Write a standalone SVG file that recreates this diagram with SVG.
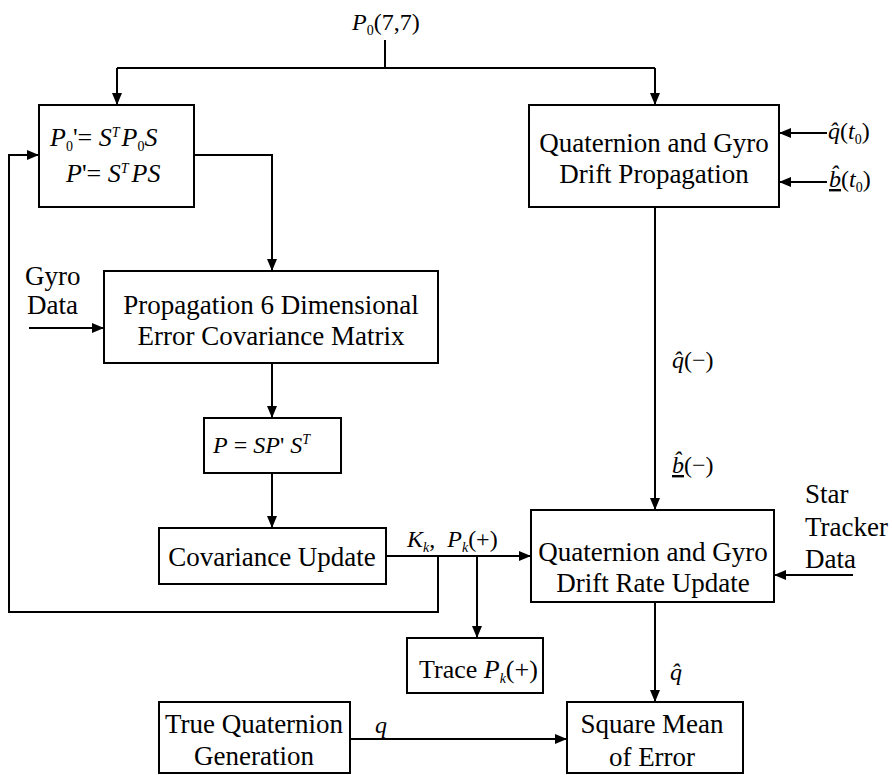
<svg xmlns="http://www.w3.org/2000/svg" width="892" height="775" viewBox="0 0 892 775">
<style>
.box{fill:#fff;stroke:#000;stroke-width:2}
.ln{fill:none;stroke:#000;stroke-width:2}
.t{font-family:"Liberation Serif","Times New Roman",serif;font-size:27px;fill:#000}
.m{font-family:"Liberation Serif","Times New Roman",serif;font-size:24px;fill:#000}
.i{font-style:italic}
.s{font-size:14px}
.u{text-decoration:underline}
</style>
<defs>
<marker id="ah" markerUnits="userSpaceOnUse" markerWidth="12" markerHeight="10" refX="12" refY="5" orient="auto">
<path d="M0,0 L12,5 L0,10 z" fill="#000"/>
</marker>
</defs>
<rect width="892" height="775" fill="#fff"/>
<g id="connectors">
<path class="ln" d="M385,40 V68"/>
<path class="ln" d="M117,68 H655" />
<path class="ln" d="M117,68 V105" marker-end="url(#ah)"/>
<path class="ln" d="M655,68 V105" marker-end="url(#ah)"/>
<path class="ln" d="M194,155 H272 V271" marker-end="url(#ah)"/>
<path class="ln" d="M29,328 H104" marker-end="url(#ah)"/>
<path class="ln" d="M272,363 V418" marker-end="url(#ah)"/>
<path class="ln" d="M272,473 V528" marker-end="url(#ah)"/>
<path class="ln" d="M386,556 H531" marker-end="url(#ah)"/>
<path class="ln" d="M438,556 V612 H9 V155 H39" marker-end="url(#ah)"/>
<path class="ln" d="M477,556 V638" marker-end="url(#ah)"/>
<path class="ln" d="M655,207 V510" marker-end="url(#ah)"/>
<path class="ln" d="M827,133 H779" marker-end="url(#ah)"/>
<path class="ln" d="M827,182 H779" marker-end="url(#ah)"/>
<path class="ln" d="M853,575 H774" marker-end="url(#ah)"/>
<path class="ln" d="M655,602 V702" marker-end="url(#ah)"/>
<path class="ln" d="M350,739 H567" marker-end="url(#ah)"/>
</g>
<g id="labels">
<text class="m" x="352" y="30"><tspan class="i">P</tspan><tspan class="s" dy="5">0</tspan><tspan dy="-5">(7,7)</tspan></text>
<text class="m" x="828" y="139"><tspan class="i">q̂</tspan>(<tspan class="i">t</tspan><tspan class="s" dy="5">0</tspan><tspan dy="-5">)</tspan></text>
<text class="m" x="829" y="187"><tspan class="i u">b̂</tspan>(<tspan class="i">t</tspan><tspan class="s" dy="5">0</tspan><tspan dy="-5">)</tspan></text>
<text class="m" x="672" y="368"><tspan class="i">q̂</tspan>(−)</text>
<text class="m" x="672" y="473"><tspan class="i u">b̂</tspan>(−)</text>
<text class="m" x="407" y="547"><tspan class="i">K</tspan><tspan class="s i" dy="5">k</tspan><tspan dy="-5">,</tspan><tspan class="i" dx="12">P</tspan><tspan class="s i" dy="5">k</tspan><tspan dy="-5">(+)</tspan></text>
<text class="m" x="670" y="680"><tspan class="i">q̂</tspan></text>
<text class="m" x="375" y="733"><tspan class="i">q</tspan></text>
<text class="t" x="25" y="285">Gyro</text>
<text class="t" x="27" y="314">Data</text>
<text class="t" x="805" y="503">Star</text>
<text class="t" x="805" y="536">Tracker</text>
<text class="t" x="805" y="568">Data</text>
</g>
<g id="n_p0s">
<rect class="box" x="39" y="105" width="155" height="102"/>
<text class="m" x="50" y="146" style="font-size:26px"><tspan class="i">P</tspan><tspan class="s" dy="5">0</tspan><tspan dy="-5">'= </tspan><tspan class="i">S</tspan><tspan class="s i" dy="-9">T</tspan><tspan class="i" dy="9" dx="2">P</tspan><tspan class="s" dy="5">0</tspan><tspan class="i" dy="-5">S</tspan></text>
<text class="m" x="66" y="182" style="font-size:26px"><tspan class="i">P</tspan>'= <tspan class="i">S</tspan><tspan class="s i" dy="-9">T</tspan><tspan class="i" dy="9" dx="3">PS</tspan></text>
</g>
<g id="n_qprop">
<rect class="box" x="529" y="105" width="250" height="102"/>
<text class="t" x="654" y="152" text-anchor="middle">Quaternion and Gyro</text>
<text class="t" x="654" y="183" text-anchor="middle">Drift Propagation</text>
</g>
<g id="n_prop6">
<rect class="box" x="104" y="271" width="334" height="92"/>
<text class="t" x="271" y="314" text-anchor="middle">Propagation 6 Dimensional</text>
<text class="t" x="271" y="345" text-anchor="middle">Error Covariance Matrix</text>
</g>
<g id="n_psps">
<rect class="box" x="204" y="418" width="137" height="55"/>
<text class="m" x="213" y="453"><tspan class="i">P</tspan> = <tspan class="i">SP</tspan>' <tspan class="i">S</tspan><tspan class="s i" dy="-9">T</tspan></text>
</g>
<g id="n_cov">
<rect class="box" x="159" y="528" width="227" height="56"/>
<text class="t" x="272" y="566" text-anchor="middle">Covariance Update</text>
</g>
<g id="n_qupd">
<rect class="box" x="531" y="510" width="243" height="92"/>
<text class="t" x="653" y="561" text-anchor="middle">Quaternion and Gyro</text>
<text class="t" x="653" y="592" text-anchor="middle">Drift Rate Update</text>
</g>
<g id="n_trace">
<rect class="box" x="407" y="638" width="136" height="55"/>
<text class="m" x="419" y="678" style="font-size:26px"><tspan>Trace </tspan><tspan class="i">P</tspan><tspan class="s i" dy="5">k</tspan><tspan dy="-5">(+)</tspan></text>
</g>
<g id="n_true">
<rect class="box" x="159" y="702" width="191" height="71"/>
<text class="t" x="254" y="733" text-anchor="middle">True Quaternion</text>
<text class="t" x="254" y="765" text-anchor="middle">Generation</text>
</g>
<g id="n_sme">
<rect class="box" x="567" y="702" width="176" height="71"/>
<text class="t" x="652" y="733" text-anchor="middle">Square Mean</text>
<text class="t" x="652" y="766" text-anchor="middle">of Error</text>
</g>
</svg>
